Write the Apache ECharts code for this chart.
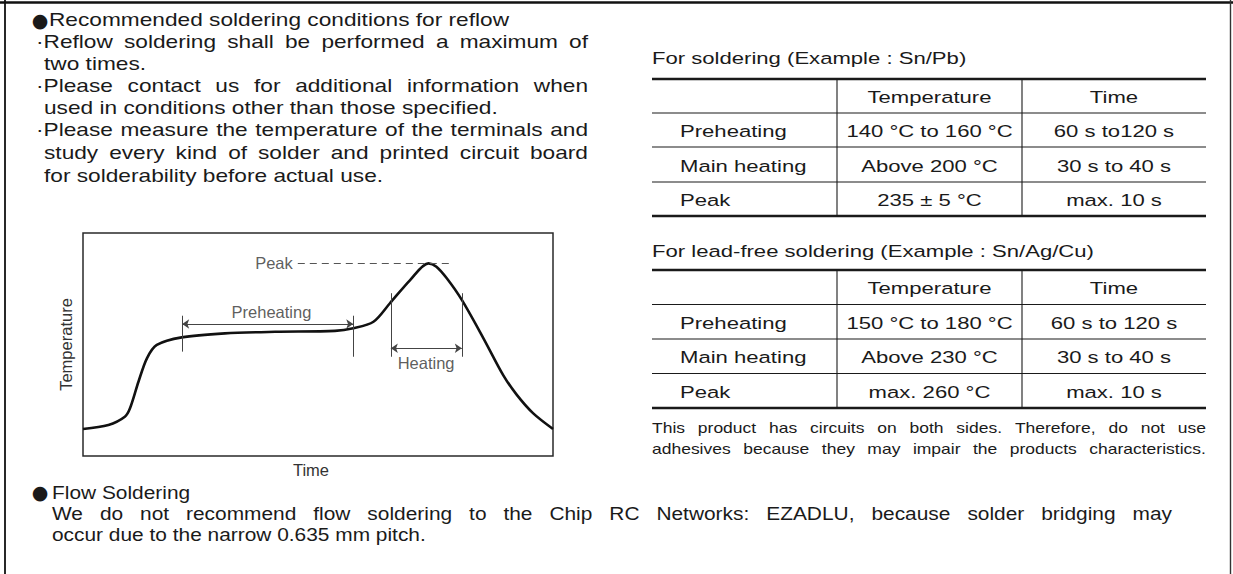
<!DOCTYPE html>
<html>
<head>
<meta charset="utf-8">
<script src="https://cdn.jsdelivr.net/npm/echarts@6/dist/echarts.min.js"></script>
<style>html,body{margin:0;padding:0;background:#fff}#c{width:1233px;height:574px}</style>
</head>
<body>
<div id="c"></div>
<script>
// ---------- DATA ----------
// Reflow profile curve (relative units, 0-100 on both axes)
const timeVals = [0, 5.4, 8.9, 10.0, 11.8, 13.6, 15.7, 21.0, 30.2, 40.9, 53.6, 57.5, 61.8, 65.3, 69.6, 73.5, 75.2, 77.4, 80.6, 85.2, 89.4, 92.3, 95.8, 100];
const tempVals = [12.1, 13.9, 17.6, 21.4, 33.3, 43.8, 49.8, 53.2, 55.0, 55.7, 56.1, 57.3, 60.2, 68.5, 78.9, 86.4, 84.9, 79.7, 70.0, 52.8, 36.3, 27.4, 19.1, 12.1];
// Annotations (same units): ticks [x, yLow, yHigh], spans [xFrom, xTo, y]
const preheatTicks = [[21.1, 46.8, 62.9], [57.5, 44.5, 62.9]];
const heatTicks = [[65.5, 44.5, 73.0], [80.6, 44.5, 73.0]];
const preheatSpan = [21.1, 57.5, 59.2];
const heatSpan = [65.5, 80.6, 48.3];
const peakGuide = [45.7, 78.4, 86.4];
const annoNames = ['Peak', 'Preheating', 'Heating'];
const annoPoints = [[45.7, 86.4], [40.1, 64.4], [73.0, 41.6]];
const xAxisName = 'Time';
const yAxisName = 'Temperature';

// Texts
const reflowHeading = 'Recommended soldering conditions for reflow';
const reflowNotes = [
  ['·Reflow soldering shall be performed a maximum of', 'two times.'],
  ['·Please contact us for additional information when', 'used in conditions other than those specified.'],
  ['·Please measure the temperature of the terminals and', 'study every kind of solder and printed circuit board', 'for solderability before actual use.']
];
const tableHeader = ['', 'Temperature', 'Time'];
const stepNames = ['Preheating', 'Main heating', 'Peak'];
const snpbTitle = 'For soldering (Example : Sn/Pb)';
const snpbTemp = ['140 °C to 160 °C', 'Above 200 °C', '235 ± 5 °C'];
const snpbTime = ['60 s to120 s', '30 s to 40 s', 'max. 10 s'];
const leadFreeTitle = 'For lead-free soldering (Example : Sn/Ag/Cu)';
const leadFreeTemp = ['150 °C to 180 °C', 'Above 230 °C', 'max. 260 °C'];
const leadFreeTime = ['60 s to 120 s', '30 s to 40 s', 'max. 10 s'];
const footNote = ['This product has circuits on both sides. Therefore, do not use',
                  'adhesives because they may impair the products characteristics.'];
const flowHeading = 'Flow Soldering';
const flowText = ['We do not recommend flow soldering to the Chip RC Networks: EZADLU, because solder bridging may',
                  'occur due to the narrow 0.635 mm pitch.'];

// ---------- LAYOUT ----------
const FONT = '"Liberation Sans", Arial, Helvetica, sans-serif';
const INK = '#1a1a1a';
const mctx = document.createElement('canvas').getContext('2d');
function tw(s, size) { mctx.font = size + 'px ' + FONT; return mctx.measureText(s).width; }
const g = [];
function txt(s, x, y, size, sx, o) {
  o = o || {};
  g.push({
    type: 'text', x: x, y: y, scaleX: sx, silent: true,
    style: {
      text: s, fontSize: size, fontFamily: o.family || FONT, fill: o.fill || INK,
      textAlign: o.align || 'left', align: o.align || 'left',
      textVerticalAlign: 'middle', verticalAlign: 'middle'
    }
  });
}
function justify(s, x0, x1, y, size, sx) {
  const words = s.split(' ');
  const ws = words.map(w => tw(w, size) * sx);
  const total = ws.reduce((a, b) => a + b, 0);
  let gap = (x1 - x0 - total) / (words.length - 1);
  gap = Math.max(gap, tw(' ', size) * sx * 0.6);
  let x = x0;
  words.forEach((w, i) => { txt(w, x, y, size, sx); x += ws[i] + gap; });
}
function hline(x0, x1, y, w, c) {
  g.push({type: 'line', silent: true, shape: {x1: x0, y1: y, x2: x1, y2: y}, style: {stroke: c || INK, lineWidth: w}});
}
function vline(x, y0, y1, w, c) {
  g.push({type: 'line', silent: true, shape: {x1: x, y1: y0, x2: x, y2: y1}, style: {stroke: c || INK, lineWidth: w}});
}
const BULLET = {align: 'center', family: '"DejaVu Sans", sans-serif'};

// frame
hline(0, 1233, 2.5, 2.6, '#111');
vline(5, 0, 574, 1.8, '#111');
vline(1230.5, 0, 574, 1.4, '#333');

// reflow notes
const TOP_FS = 18, TOP_SX = 1.26;
const topY = [19.5, 41.5, 63.5, 85.5, 107.5, 129.5, 152.5, 175.5];
txt('●', 40, topY[0], 19, 1, BULLET);
txt(reflowHeading, 49, topY[0], TOP_FS, TOP_SX);
let li = 1;
reflowNotes.forEach(par => par.forEach((line, j) => {
  const y = topY[li++];
  const x0 = j === 0 ? 36 : 44;
  if (j < par.length - 1) justify(line, x0, 588, y, TOP_FS, TOP_SX); else txt(line, x0, y, TOP_FS, TOP_SX);
}));

// tables
const TAB_FS = 17, TAB_SX = 1.3;
function table(title, titleY, rows, temps, times) {
  const L = 652, R = 1206, C1 = 837, C2 = 1022;
  txt(title, L, titleY, TAB_FS, TAB_SX);
  rows.forEach((y, i) => hline(L, R, y, (i === 0 || i === rows.length - 1) ? 2.3 : 1.1));
  vline(C1, rows[0], rows[rows.length - 1], 1.1);
  vline(C2, rows[0], rows[rows.length - 1], 1.1);
  const cy = i => (rows[i] + rows[i + 1]) / 2 + 1;
  const c = {align: 'center'};
  txt(tableHeader[1], (C1 + C2) / 2, cy(0), TAB_FS, TAB_SX, c);
  txt(tableHeader[2], (C2 + R) / 2, cy(0), TAB_FS, TAB_SX, c);
  stepNames.forEach((n, k) => {
    txt(n, 680, cy(k + 1), TAB_FS, TAB_SX);
    txt(temps[k], (C1 + C2) / 2, cy(k + 1), TAB_FS, TAB_SX, c);
    txt(times[k], (C2 + R) / 2, cy(k + 1), TAB_FS, TAB_SX, c);
  });
}
table(snpbTitle, 57.5, [79, 113, 147, 182, 216], snpbTemp, snpbTime);
table(leadFreeTitle, 251, [270, 304.5, 339, 373.5, 408], leadFreeTemp, leadFreeTime);
justify(footNote[0], 652, 1206, 428.5, 14, 1.25);
justify(footNote[1], 652, 1206, 449.5, 14, 1.25);

// flow soldering
const BOT_FS = 18.5, BOT_SX = 1.13;
txt('●', 40, 492, 19, 1, BULLET);
txt(flowHeading, 52, 492, BOT_FS, BOT_SX);
justify(flowText[0], 52, 1172, 513.5, BOT_FS, BOT_SX);
txt(flowText[1], 52, 534.5, BOT_FS, BOT_SX);

// ---------- CHART ----------
const curve = timeVals.map((t, i) => [t, tempVals[i]]);
const tickSegs = preheatTicks.concat(heatTicks).map(t => [{coord: [t[0], t[1]]}, {coord: [t[0], t[2]]}]);
const spanSegs = [preheatSpan, heatSpan].map(s => [{coord: [s[0], s[2]]}, {coord: [s[1], s[2]]}]);
const peakSeg = [[{coord: [peakGuide[0], peakGuide[2]]}, {coord: [peakGuide[1], peakGuide[2]]}]];
const labelData = annoNames.map((n, i) => ({name: n, value: annoPoints[i]}));
const labelPos = ['left', 'inside', 'inside'];
const chartFont = {fontFamily: FONT, fontSize: 16.5, color: '#333'};

const chart = echarts.init(document.getElementById('c'), null, {renderer: 'svg'});
chart.setOption({
  animation: false,
  grid: {left: 83, top: 233, width: 470, height: 223, show: true, borderColor: '#2a2a2a', borderWidth: 1.5, backgroundColor: 'transparent'},
  xAxis: {type: 'value', min: 0, max: 100, axisLine: {show: false}, axisTick: {show: false}, axisLabel: {show: false}, splitLine: {show: false},
          name: xAxisName, nameLocation: 'middle', nameGap: 5, nameTextStyle: Object.assign({padding: [0, 14, 0, 0]}, chartFont)},
  yAxis: {type: 'value', min: 0, max: 100, axisLine: {show: false}, axisTick: {show: false}, axisLabel: {show: false}, splitLine: {show: false},
          name: yAxisName, nameLocation: 'middle', nameGap: 9, nameTextStyle: chartFont},
  series: [
    {type: 'line', data: curve, smooth: 0.3, symbol: 'none', silent: true,
     lineStyle: {color: '#111', width: 2.6}},
    {type: 'line', data: [], silent: true,
     markLine: {silent: true, symbol: 'none', label: {show: false}, lineStyle: {color: '#444', width: 1, type: 'solid'}, data: tickSegs}},
    {type: 'line', data: [], silent: true,
     markLine: {silent: true, symbol: ['arrow', 'arrow'], symbolSize: 7, label: {show: false}, lineStyle: {color: '#444', width: 1, type: 'solid'}, data: spanSegs}},
    {type: 'line', data: [], silent: true,
     markLine: {silent: true, symbol: 'none', label: {show: false}, lineStyle: {color: '#555', width: 1.1, type: [7, 5]}, data: peakSeg}},
    {type: 'scatter', symbolSize: 0, silent: true,
     data: labelData.map((d, i) => Object.assign({label: {position: labelPos[i]}}, d)),
     label: Object.assign({show: true, formatter: '{b}', distance: 5}, chartFont)}
  ],
  graphic: g
});
</script>
</body>
</html>
